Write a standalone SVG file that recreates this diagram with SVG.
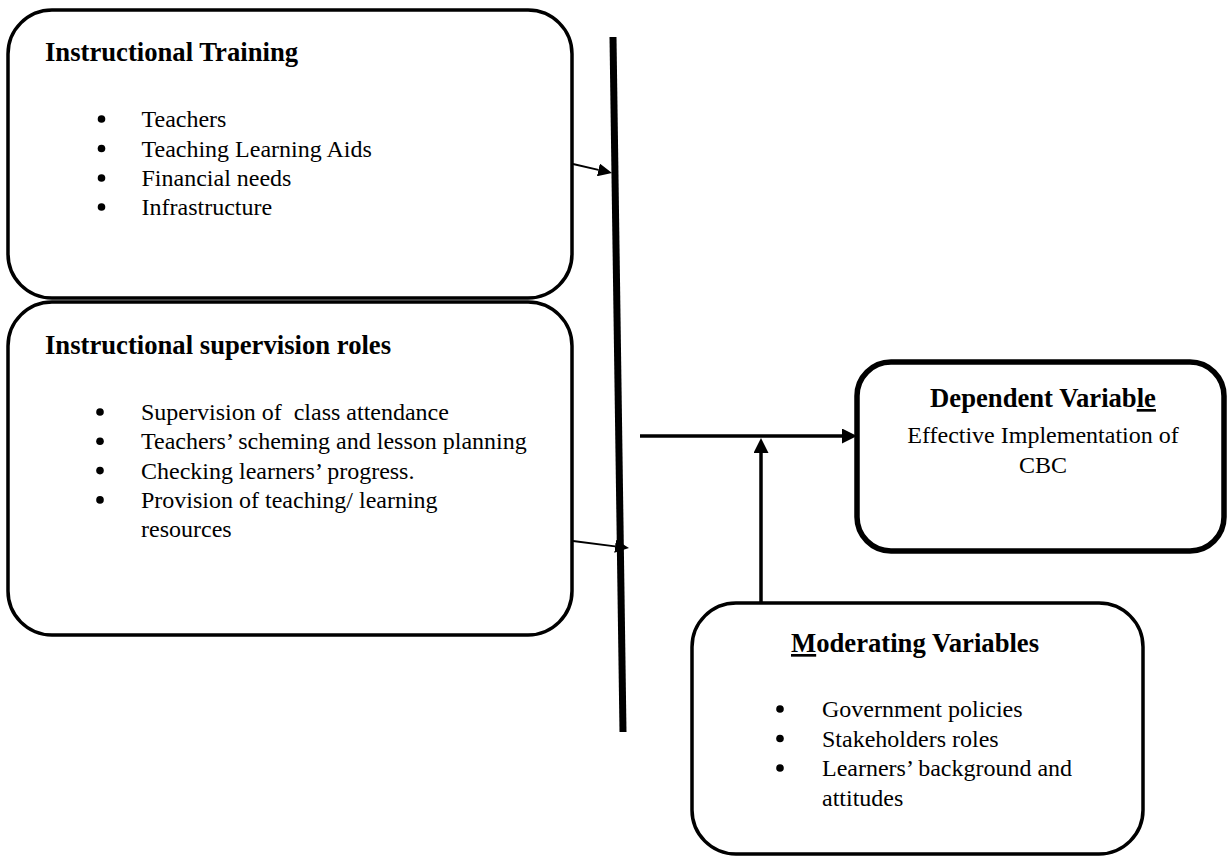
<svg xmlns="http://www.w3.org/2000/svg" width="1228" height="859" viewBox="0 0 1228 859">
<style>
text{font-family:"Liberation Serif","Times New Roman",serif;fill:#000}
.t{font-size:26.67px;font-weight:bold}
.b{font-size:24px}
.box{fill:#fff;stroke:#000;stroke-width:3.5}
.dep{fill:#fff;stroke:#000;stroke-width:5.5}
.u{text-decoration:underline}
.bul{fill:#000}
.thin{stroke:#000;stroke-width:1.8;fill:none}
.thick{stroke:#000;stroke-width:3.5;fill:none}
</style>
<defs>
<marker id="ahs" markerUnits="userSpaceOnUse" markerWidth="15" markerHeight="13" refX="0" refY="6.5" orient="auto"><path d="M0,0 L14,6.5 L0,13 z" fill="#000"/></marker>
<marker id="ahl" markerUnits="userSpaceOnUse" markerWidth="16" markerHeight="15" refX="0" refY="7.5" orient="auto"><path d="M0,0 L15,7.5 L0,15 z" fill="#000"/></marker>
</defs>
<rect width="1228" height="859" fill="#fff"/>
<g id="training">
<rect class="box" x="8" y="10" width="564" height="288" rx="44"/>
<text class="t" x="45" y="61">Instructional Training</text>
<circle class="bul" cx="101.5" cy="119" r="3.8"/>
<circle class="bul" cx="101.5" cy="148.5" r="3.8"/>
<circle class="bul" cx="101.5" cy="178" r="3.8"/>
<circle class="bul" cx="101.5" cy="207" r="3.8"/>
<text class="b" x="141.5" y="127">Teachers</text>
<text class="b" x="141.5" y="156.5">Teaching Learning Aids</text>
<text class="b" x="141.5" y="186">Financial needs</text>
<text class="b" x="141.5" y="215">Infrastructure</text>
</g>
<g id="supervision">
<rect class="box" x="8" y="302" width="564" height="333" rx="44"/>
<text class="t" x="45" y="354">Instructional supervision roles</text>
<circle class="bul" cx="100" cy="412" r="3.8"/>
<circle class="bul" cx="100" cy="441.3" r="3.8"/>
<circle class="bul" cx="100" cy="470.6" r="3.8"/>
<circle class="bul" cx="100" cy="499.9" r="3.8"/>
<text class="b" x="141" y="420" xml:space="preserve">Supervision of  class attendance</text>
<text class="b" x="141" y="449.3">Teachers’ scheming and lesson planning</text>
<text class="b" x="141" y="478.6">Checking learners’ progress.</text>
<text class="b" x="141" y="507.9">Provision of teaching/ learning</text>
<text class="b" x="141" y="537.2">resources</text>
</g>
<g id="dependent">
<rect class="dep" x="857" y="362" width="367" height="189" rx="34"/>
<text class="t" x="1043" y="407" text-anchor="middle">Dependent Variab<tspan class="u">le</tspan></text>
<text class="b" x="1043" y="443" text-anchor="middle">Effective Implementation of</text>
<text class="b" x="1043" y="473" text-anchor="middle">CBC</text>
</g>
<g id="moderating">
<rect class="box" x="692" y="603" width="451" height="251" rx="44"/>
<text class="t" x="791" y="652"><tspan class="u">M</tspan>oderating Variables</text>
<circle class="bul" cx="780" cy="709" r="3.8"/>
<circle class="bul" cx="780" cy="738.5" r="3.8"/>
<circle class="bul" cx="780" cy="768" r="3.8"/>
<text class="b" x="822" y="717">Government policies</text>
<text class="b" x="822" y="746.5">Stakeholders roles</text>
<text class="b" x="822" y="776">Learners’ background and</text>
<text class="b" x="822" y="805.5">attitudes</text>
</g>
<g id="connectors">
<line x1="613" y1="37" x2="623" y2="732" stroke="#000" stroke-width="7"/>
<line class="thin" x1="573" y1="164" x2="598.4" y2="169.9" marker-end="url(#ahs)"/>
<line class="thin" x1="573" y1="541" x2="615.1" y2="546.3" marker-end="url(#ahs)"/>
<line class="thick" x1="640" y1="436" x2="842" y2="436" marker-end="url(#ahl)"/>
<line class="thick" x1="761" y1="603" x2="761" y2="453" marker-end="url(#ahl)"/>
</g>
</svg>
